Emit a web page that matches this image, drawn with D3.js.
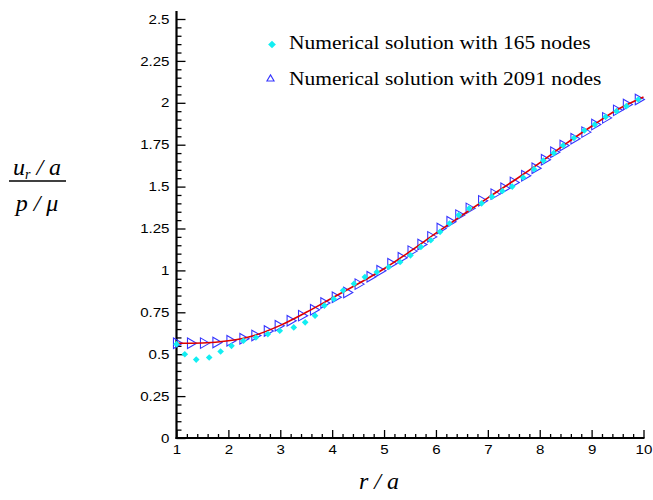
<!DOCTYPE html>
<html>
<head>
<meta charset="utf-8">
<script src="https://cdn.jsdelivr.net/npm/d3@7"></script>
<style>
  body { margin: 0; background: #fff; }
  svg { display: block; }
</style>
</head>
<body>
<div id="chart"></div>
<script>
// analytical solution (red line)
const exactR = [1, 1.5, 2, 2.5, 3, 3.5, 4, 4.5, 5, 5.5, 6, 6.5, 7, 7.5, 8, 8.5, 9, 9.5, 10]
const exactU = [0.565, 0.567, 0.58, 0.612, 0.672, 0.75, 0.835, 0.92, 1.01, 1.113, 1.222, 1.328, 1.433, 1.535, 1.642, 1.755, 1.86, 1.96, 2.035]

// numerical, 165 nodes (cyan diamonds)
const n165R = [1.0, 1.16, 1.38, 1.63, 1.85, 2.06, 2.29, 2.53, 2.76, 2.99, 3.26, 3.48, 3.67, 3.85, 4.03,
  4.21, 4.42, 4.63, 4.86, 5.09, 5.31, 5.51, 5.71, 5.9, 6.08, 6.26, 6.44, 6.64, 6.88, 7.08, 7.28, 7.47,
  7.68, 7.89, 8.07, 8.27, 8.45, 8.66, 8.86, 9.06, 9.27, 9.48, 9.67, 9.9]
const n165U = [0.56, 0.5, 0.468, 0.48, 0.516, 0.55, 0.58, 0.6, 0.62, 0.64, 0.66, 0.69, 0.73, 0.79, 0.83,
  0.88, 0.92, 0.96, 0.99, 1.02, 1.05, 1.09, 1.14, 1.18, 1.23, 1.28, 1.33, 1.37, 1.4, 1.44, 1.474, 1.5,
  1.554, 1.604, 1.655, 1.7, 1.745, 1.79, 1.835, 1.87, 1.916, 1.95, 1.98, 2.02]

// numerical, 2091 nodes (blue triangles)
const n2091R = [1.0, 1.27, 1.52, 1.76, 2.03, 2.28, 2.51, 2.75, 2.96, 3.19, 3.41, 3.64, 3.84, 4.06,
  4.28, 4.5, 4.73, 4.92, 5.13, 5.33, 5.52, 5.71, 5.9, 6.08, 6.27, 6.44, 6.64, 6.88, 7.12, 7.31, 7.49,
  7.71, 7.91, 8.09, 8.27, 8.45, 8.66, 8.87, 9.06, 9.27, 9.48, 9.67, 9.9]
const n2091U = [0.565, 0.565, 0.566, 0.57, 0.58, 0.592, 0.612, 0.638, 0.67, 0.7, 0.73, 0.765, 0.805, 0.84,
  0.868, 0.918, 0.962, 0.998, 1.04, 1.075, 1.115, 1.155, 1.2, 1.25, 1.29, 1.33, 1.37, 1.415, 1.455, 1.49, 1.525,
  1.565, 1.61, 1.66, 1.705, 1.745, 1.785, 1.825, 1.87, 1.91, 1.955, 1.99, 2.02]

const xTicks = [1, 2, 3, 4, 5, 6, 7, 8, 9, 10]
const yTicks = [0, 0.25, 0.5, 0.75, 1, 1.25, 1.5, 1.75, 2, 2.25, 2.5]
const legendLabels = ['Numerical solution with 165 nodes', 'Numerical solution with 2091 nodes']

const width = 653, height = 500
const svg = d3.select('#chart').append('svg')
  .attr('width', width)
  .attr('height', height)

const x = d3.scaleLinear().domain([1, 10]).range([176.5, 643.5])
const y = d3.scaleLinear().domain([0, 2.5]).range([438, 19])

const tickFont = '"Liberation Sans", Arial, sans-serif'
const serif = '"Liberation Serif", "Times New Roman", serif'
const tickStretch = 1.18   // reference glyphs are wider than tall
const legendStretch = 1.13

// minor ticks
const xMinor = d3.range(1, 10.001, 0.2).filter(v => Math.abs(v - Math.round(v)) > 1e-6)
const yMinor = d3.range(0, 2.5001, 0.05).filter(v => Math.abs(v / 0.25 - Math.round(v / 0.25)) > 1e-6)

const xAxis = svg.append('g').attr('transform', `translate(0, ${y(0)})`)
xAxis.call(d3.axisBottom(x).tickValues(xMinor).tickSize(-4).tickFormat(''))
xAxis.append('g').call(d3.axisBottom(x).tickValues(xTicks).tickSize(-8).tickPadding(7).tickFormat(d3.format('d')))

const yAxis = svg.append('g').attr('transform', `translate(${x(1)}, 0)`)
yAxis.call(d3.axisLeft(y).tickValues(yMinor).tickSize(-5).tickFormat(''))
yAxis.append('g').call(d3.axisLeft(y).tickValues(yTicks).tickSize(-9).tickPadding(7).tickFormat(d => d))

svg.selectAll('.domain').remove()
svg.selectAll('.tick line').attr('stroke', '#000').attr('stroke-width', 1.3)
svg.selectAll('.tick text')
  .attr('font-family', tickFont)
  .attr('font-size', 12.8)
  .attr('fill', '#000')
  .each(function () {
    const t = d3.select(this)
    t.attr('x', (+t.attr('x') || 0) / tickStretch)
      .attr('transform', `scale(${tickStretch}, 1)`)
  })

// axis lines
svg.append('line')
  .attr('x1', x(1) - 1).attr('x2', x(10) + 1)
  .attr('y1', y(0)).attr('y2', y(0))
  .attr('stroke', '#000').attr('stroke-width', 2.2)
svg.append('line')
  .attr('x1', x(1)).attr('x2', x(1))
  .attr('y1', y(0) + 1).attr('y2', 11)
  .attr('stroke', '#000').attr('stroke-width', 2.2)

// triangles (2091 nodes)
const triRight = d3.symbol().type(d3.symbolTriangle).size(48)
svg.append('g').selectAll('path')
  .data(n2091R.map((r, i) => [r, n2091U[i]]))
  .enter().append('path')
  .attr('d', triRight)
  .attr('transform', d => `translate(${x(d[0])}, ${y(d[1])}) rotate(90)`)
  .attr('fill', 'none')
  .attr('stroke', '#3535ff')
  .attr('stroke-width', 1.1)

// exact line
const line = d3.line()
  .x(d => x(d[0]))
  .y(d => y(d[1]))
  .curve(d3.curveMonotoneX)
svg.append('path')
  .datum(exactR.map((r, i) => [r, exactU[i]]))
  .attr('d', line)
  .attr('fill', 'none')
  .attr('stroke', '#dd0000')
  .attr('stroke-width', 1.6)

// diamonds (165 nodes)
const diamond = d3.symbol().type(d3.symbolDiamond2).size(28)
svg.append('g').selectAll('path')
  .data(n165R.map((r, i) => [r, n165U[i]]))
  .enter().append('path')
  .attr('d', diamond)
  .attr('transform', d => `translate(${x(d[0])}, ${y(d[1])})`)
  .attr('fill', '#12eef2')

// legend
const legend = svg.append('g')
legend.append('path')
  .attr('d', d3.symbol().type(d3.symbolDiamond2).size(38))
  .attr('transform', 'translate(272, 44.5)')
  .attr('fill', '#12eef2')
legend.append('path')
  .attr('d', d3.symbol().type(d3.symbolTriangle).size(22))
  .attr('transform', 'translate(270.5, 79)')
  .attr('fill', 'none')
  .attr('stroke', '#3535ff')
  .attr('stroke-width', 1.1)
legend.selectAll('text')
  .data(legendLabels)
  .enter().append('text')
  .attr('x', 289 / legendStretch)
  .attr('y', (d, i) => 49 + i * 36)
  .attr('transform', `scale(${legendStretch}, 1)`)
  .attr('font-family', serif)
  .attr('font-size', 19)
  .attr('fill', '#000')
  .text(d => d)

// y label: fraction
const yl = svg.append('g').attr('font-family', serif).attr('font-style', 'italic').attr('font-size', 24).attr('fill', '#000')
const num = yl.append('text').attr('x', 37).attr('y', 175).attr('text-anchor', 'middle')
num.append('tspan').text('u')
num.append('tspan').attr('font-size', 14).attr('dy', 4).text('r')
num.append('tspan').attr('dy', -4).text(' / a')
yl.append('line')
  .attr('x1', 9).attr('x2', 66)
  .attr('y1', 181).attr('y2', 181)
  .attr('stroke', '#000').attr('stroke-width', 1.3)
yl.append('text').attr('x', 37).attr('y', 211).attr('text-anchor', 'middle').text('p / μ')

// x label
svg.append('text')
  .attr('x', 379).attr('y', 489)
  .attr('text-anchor', 'middle')
  .attr('font-family', serif)
  .attr('font-style', 'italic')
  .attr('font-size', 24)
  .attr('fill', '#000')
  .text('r / a')
</script>
</body>
</html>
